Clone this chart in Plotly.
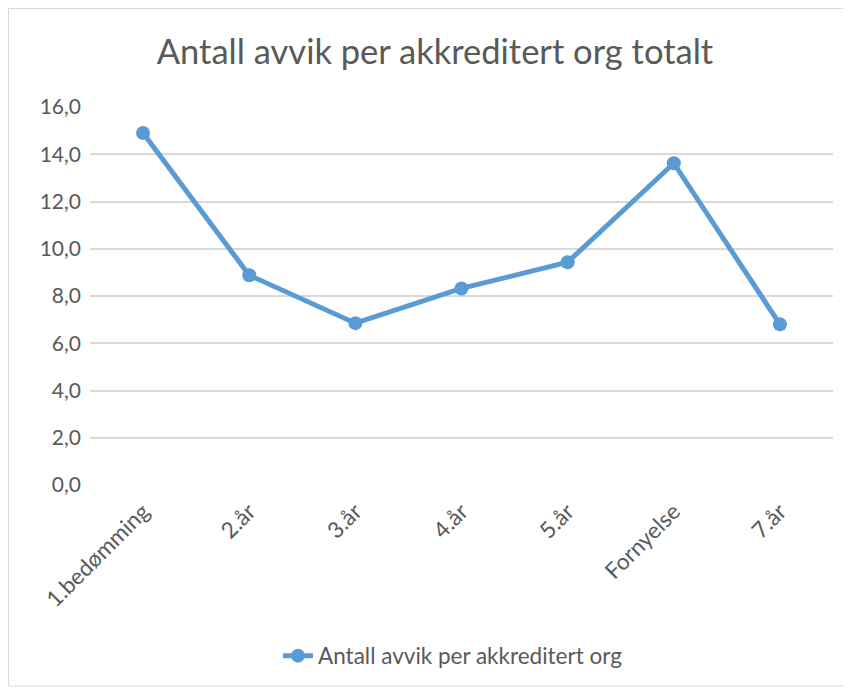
import plotly.graph_objects as go

categories = ["1.bedømming", "2.år", "3.år", "4.år", "5.år", "Fornyelse", "7.år"]
values = [14.9, 8.88, 6.85, 8.32, 9.43, 13.62, 6.8]
series_name = "Antall avvik per akkreditert org"
title_text = "Antall avvik per akkreditert org totalt"

OFF = 8  # body margin of the page
W, H = 851, 688
L, T = 90 - OFF, 107 - OFF
PR, PB = 833 - OFF, 485 - OFF
R, B = W - PR, H - PB
pw, ph = PR - L, PB - T

def px(x):
    return (x - OFF - L) / pw

def py(y):
    return (PB - (y - OFF)) / ph

fig = go.Figure()
fig.add_trace(go.Scatter(
    x=categories, y=values, name=series_name, mode="lines+markers",
    line=dict(color="#5B9BD5", width=5),
    marker=dict(color="#5B9BD5", size=14),
))

fig.update_layout(
    width=W, height=H,
    margin=dict(l=L, r=R, t=T, b=B),
    paper_bgcolor="white", plot_bgcolor="white",
    separators=", ",
    font=dict(family="Lato, Open Sans, sans-serif", color="#595959", size=21),
    title=dict(text=title_text, xref="paper", x=px(435), xanchor="center",
               yref="container", y=1 - (52 - OFF) / H, yanchor="middle",
               font=dict(size=34.5, color="#595959")),
    showlegend=True,
    legend=dict(orientation="h", x=px(453), xanchor="center", y=py(656), yanchor="middle",
                font=dict(size=22.5, color="#595959")),
    xaxis=dict(type="category", range=[-0.5, len(categories) - 0.5], showgrid=False,
               showline=False, ticks="", tickangle=-45, ticklabelstandoff=8,
               tickfont=dict(size=22.5, color="#595959")),
    yaxis=dict(range=[0, 16], dtick=2, tickformat=".1f", showgrid=True, gridcolor="#D9D9D9",
               gridwidth=1.5, zeroline=False, showline=False, ticks="", ticklen=0,
               ticklabelstandoff=8,
               tickfont=dict(size=21, color="#595959")),
    shapes=[dict(type="rect", xref="paper", yref="paper",
                 x0=px(8.5), x1=px(849), y0=py(686), y1=py(8.5),
                 line=dict(color="#D9D9D9", width=1), layer="below")],
)

fig.write_html("out.html")
